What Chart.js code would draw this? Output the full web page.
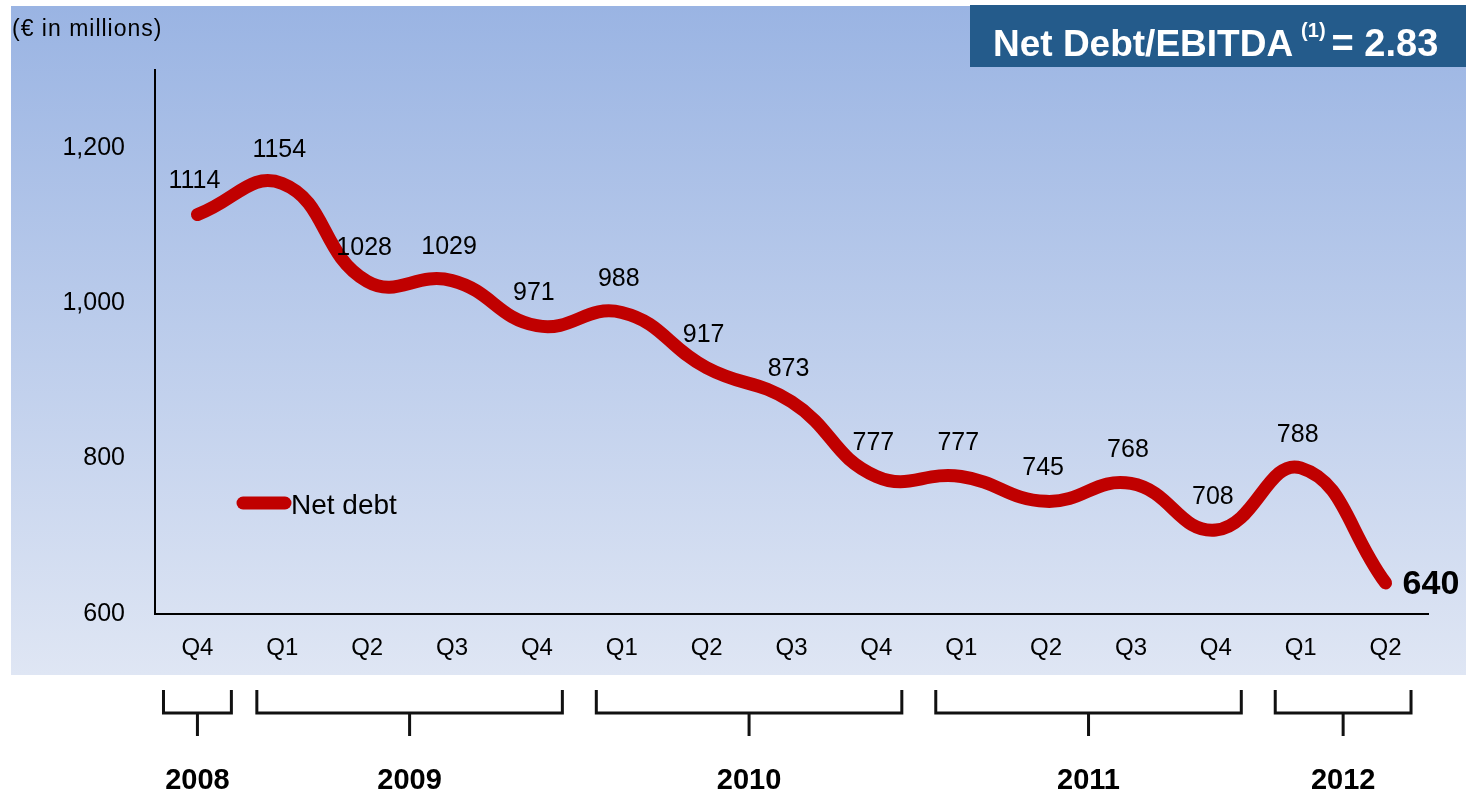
<!DOCTYPE html>
<html>
<head>
<meta charset="utf-8">
<script src="https://cdn.jsdelivr.net/npm/chart.js@4.4.1/dist/chart.umd.min.js"></script>
<style>
  html, body { margin: 0; padding: 0; background: #fff; }
  canvas { display: block; }
</style>
</head>
<body>
<canvas id="c" width="1466" height="794"></canvas>
<script>
// quarters along the x axis
const quarters = ["Q4", "Q1", "Q2", "Q3", "Q4", "Q1", "Q2", "Q3", "Q4", "Q1", "Q2", "Q3", "Q4", "Q1", "Q2"];
// net debt, € millions
const netDebt = [1114, 1154, 1028, 1029, 971, 988, 917, 873, 777, 777, 745, 768, 708, 788, 640];
// year groups under the axis
const years = ["2008", "2009", "2010", "2011", "2012"];
const quartersPerYear = [1, 4, 4, 4, 2];
const yTicks = [600, 800, 1000, 1200];

const FONT = "'Liberation Sans', Arial, sans-serif";
const RED = "#c00000";

const backdrop = {
    id: "backdrop",
    beforeDraw(chart) {
        const ctx = chart.ctx;
        ctx.save();
        ctx.fillStyle = "#fff";
        ctx.fillRect(0, 0, chart.width, chart.height);
        const g = ctx.createLinearGradient(0, 6, 0, 675);
        g.addColorStop(0, "#9ab4e3");
        g.addColorStop(1, "#dfe6f4");
        ctx.fillStyle = g;
        ctx.fillRect(11, 6, chart.width - 11, 669);

        // title box
        ctx.fillStyle = "#245b8b";
        ctx.fillRect(970, 5, chart.width - 970, 62);
        ctx.fillStyle = "#fff";
        ctx.textBaseline = "alphabetic";
        ctx.textAlign = "left";
        let x = 993;
        ctx.font = "bold 37px " + FONT;
        ctx.fillText("Net Debt/EBITDA", x, 56);
        x += ctx.measureText("Net Debt/EBITDA").width + 8;
        ctx.font = "bold 20px " + FONT;
        ctx.fillText("(1)", x, 37);
        x += ctx.measureText("(1)").width + 6;
        ctx.font = "bold 38px " + FONT;
        ctx.fillText("= 2.83", x, 56);

        // unit note
        ctx.fillStyle = "#000";
        ctx.font = "23px " + FONT;
        ctx.letterSpacing = "1px";
        ctx.fillText("(\u20ac in millions)", 12, 36);
        ctx.letterSpacing = "0px";
        ctx.restore();
    },
    afterDraw(chart) {
        const ctx = chart.ctx;
        const xs = chart.scales.x;
        const step = xs.getPixelForValue(1) - xs.getPixelForValue(0);
        ctx.save();

        // legend
        ctx.strokeStyle = RED;
        ctx.lineWidth = 13;
        ctx.lineCap = "round";
        ctx.beginPath();
        ctx.moveTo(243, 503);
        ctx.lineTo(285, 503);
        ctx.stroke();
        ctx.fillStyle = "#000";
        ctx.font = "28px " + FONT;
        ctx.textBaseline = "middle";
        ctx.textAlign = "left";
        ctx.fillText("Net debt", 291, 506);

        // year brackets
        ctx.strokeStyle = "#111";
        ctx.lineWidth = 3;
        ctx.lineCap = "butt";
        ctx.font = "bold 29px " + FONT;
        ctx.textAlign = "center";
        let idx = 0;
        years.forEach((yr, i) => {
            const n = quartersPerYear[i];
            const pad = n === 1 ? step * 0.4 : step * 0.3;
            const x0 = xs.getPixelForValue(idx) - pad;
            const x1 = xs.getPixelForValue(idx + n - 1) + pad;
            const mid = (x0 + x1) / 2;
            ctx.beginPath();
            ctx.moveTo(x0, 690);
            ctx.lineTo(x0, 713);
            ctx.lineTo(x1, 713);
            ctx.lineTo(x1, 690);
            ctx.moveTo(mid, 713);
            ctx.lineTo(mid, 736);
            ctx.stroke();
            ctx.fillText(yr, mid, 781);
            idx += n;
        });
        ctx.restore();
    }
};

const valueLabels = {
    id: "valueLabels",
    afterDatasetsDraw(chart) {
        const ctx = chart.ctx;
        const meta = chart.getDatasetMeta(0);
        ctx.save();
        ctx.fillStyle = "#000";
        ctx.textBaseline = "middle";
        meta.data.forEach((pt, i) => {
            const v = netDebt[i];
            if (i === meta.data.length - 1) {
                ctx.font = "bold 34px " + FONT;
                ctx.textAlign = "left";
                ctx.fillText(String(v), pt.x + 17, pt.y + 2);
            } else {
                ctx.font = "25px " + FONT;
                ctx.textAlign = "center";
                ctx.fillText(String(v), pt.x - 3, pt.y - 33);
            }
        });
        ctx.restore();
    }
};

new Chart(document.getElementById("c"), {
    type: "line",
    data: {
        labels: quarters,
        datasets: [
            {
                label: "Net debt",
                data: netDebt,
                borderColor: RED,
                borderWidth: 13,
                borderCapStyle: "round",
                borderJoinStyle: "round",
                tension: 0.45,
                pointRadius: 0,
                fill: false,
            },
        ],
    },
    options: {
        responsive: false,
        animation: false,
        layout: { padding: { left: 0, top: 70, right: 38, bottom: 120 } },
        plugins: {
            legend: { display: false },
            tooltip: { enabled: false },
        },
        scales: {
            x: {
                offset: true,
                grid: { display: false, drawTicks: false },
                border: { color: "#000", width: 2 },
                ticks: { color: "#000", font: { family: FONT, size: 24 }, padding: 20 },
                afterFit(s) { s.height = 60; },
            },
            y: {
                min: 600,
                max: 1300,
                grid: { display: false, drawTicks: false },
                border: { color: "#000", width: 2 },
                ticks: { color: "#000", font: { family: FONT, size: 25 }, padding: 30, stepSize: 100 },
                afterBuildTicks(s) {
                    s.ticks = yTicks.map(v => ({ value: v }));
                },
                afterFit(s) { s.width = 155; },
            },
        },
    },
    plugins: [backdrop, valueLabels],
});
</script>
</body>
</html>
